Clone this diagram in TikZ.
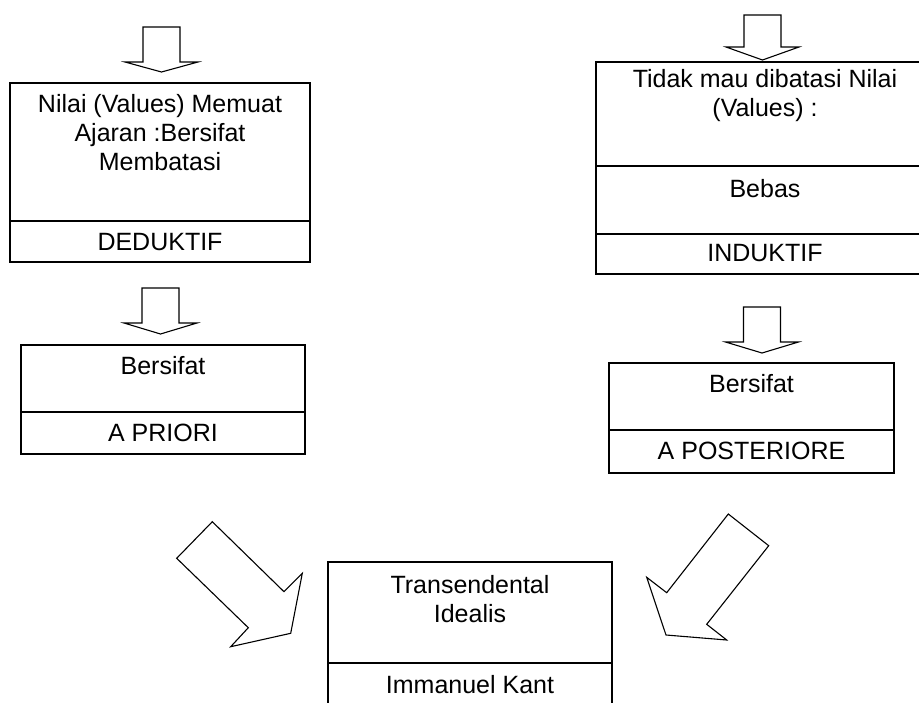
\documentclass[tikz,border=0pt]{standalone}
\usepackage{fontspec}
\setmainfont{Liberation Sans}
\usetikzlibrary{positioning}

\begin{document}
\begin{tikzpicture}[
      x=1pt, y=-1pt,
      cell/.style={rectangle, draw=black, line width=1.6pt, inner sep=0pt, outer sep=0pt},
      celltext/.style={anchor=base, align=center, inner sep=0pt, font=\fontsize{25}{29}\selectfont},
      blockarrow/.style={draw=black, line width=1.1pt, line join=miter, fill=white},
    ]
    \path [use as bounding box, clip] (0, 0) rectangle (919, 702);
    % Down arrows (left and right column)
    \foreach \cx/\ya/\yb/\yc in {161.5/27/62/72, 160.5/288/323/334, 762.5/15/47/60, 762/307/342/353}
      \draw [blockarrow] ({\cx-18.5}, \ya) -- ({\cx+18.5}, \ya) -- ({\cx+18.5}, \yb) -- ({\cx+36.5}, \yb)
        -- (\cx, \yc) -- ({\cx-36.5}, \yb) -- ({\cx-18.5}, \yb) -- cycle;
    % Left column
    \node [cell, minimum width=300, minimum height=138] (nilai) at (160, 152) {};
    \node [cell, minimum width=300, minimum height=41, below=0pt of nilai] (deduktif) {};
    \node [cell, minimum width=284, minimum height=67] (bersifatL) at (163, 378.5) {};
    \node [cell, minimum width=284, minimum height=42, below=0pt of bersifatL] (apriori) {};
    % base of a multi-line node is its last line
    \node [celltext] (nilaiText) at ([yshift=-87pt]nilai.north) {Nilai (Values) Memuat\\Ajaran :Bersifat\\Membatasi};
    \node [celltext] (deduktifText) at ([yshift=-29pt]deduktif.north) {DEDUKTIF};
    \node [celltext] (bersifatLText) at ([yshift=-29pt]bersifatL.north) {Bersifat};
    \node [celltext] (aprioriText) at ([yshift=-29pt]apriori.north) {A PRIORI};
    % Right column
    \node [cell, minimum width=338, minimum height=104] (tidak) at (765, 114) {};
    \node [cell, minimum width=338, minimum height=68, below=0pt of tidak] (bebas) {};
    \node [cell, minimum width=338, minimum height=40, below=0pt of bebas] (induktif) {};
    \node [cell, minimum width=285, minimum height=67] (bersifatR) at (751.5, 396.5) {};
    \node [cell, minimum width=285, minimum height=43, below=0pt of bersifatR] (aposteriore) {};
    \node [celltext] (tidakText) at ([yshift=-54.5pt]tidak.north) {Tidak mau dibatasi Nilai\\(Values) :};
    \node [celltext] (bebasText) at ([yshift=-31pt]bebas.north) {Bebas};
    \node [celltext] (induktifText) at ([yshift=-27pt]induktif.north) {INDUKTIF};
    \node [celltext] (bersifatRText) at ([yshift=-29pt]bersifatR.north) {Bersifat};
    \node [celltext] (aposterioreText) at ([yshift=-29pt]aposteriore.north) {A POSTERIORE};
    % Bottom: both sides meet here
    \node [cell, minimum width=284, minimum height=101] (transendental) at (470, 612.5) {};
    \node [cell, minimum width=284, minimum height=50, below=0pt of transendental] (kant) {};
    \node [celltext] (transendentalText) at ([yshift=-60pt]transendental.north) {Transendental\\Idealis};
    \node [celltext] (kantText) at ([yshift=-30pt]kant.north) {Immanuel Kant};
    \draw [blockarrow] (212.3, 521.7) -- (284, 591.7) -- (302.3, 573.3) -- (290.7, 633.3)
      -- (230.7, 646.7) -- (248.3, 627.7) -- (176.7, 558.3) -- cycle;
    \draw [blockarrow] (728.3, 514) -- (768.7, 545.7) -- (706.7, 624.3) -- (726.7, 640)
      -- (666, 635) -- (646.7, 577.3) -- (666.7, 592.7) -- cycle;
  \end{tikzpicture}
\end{document}
